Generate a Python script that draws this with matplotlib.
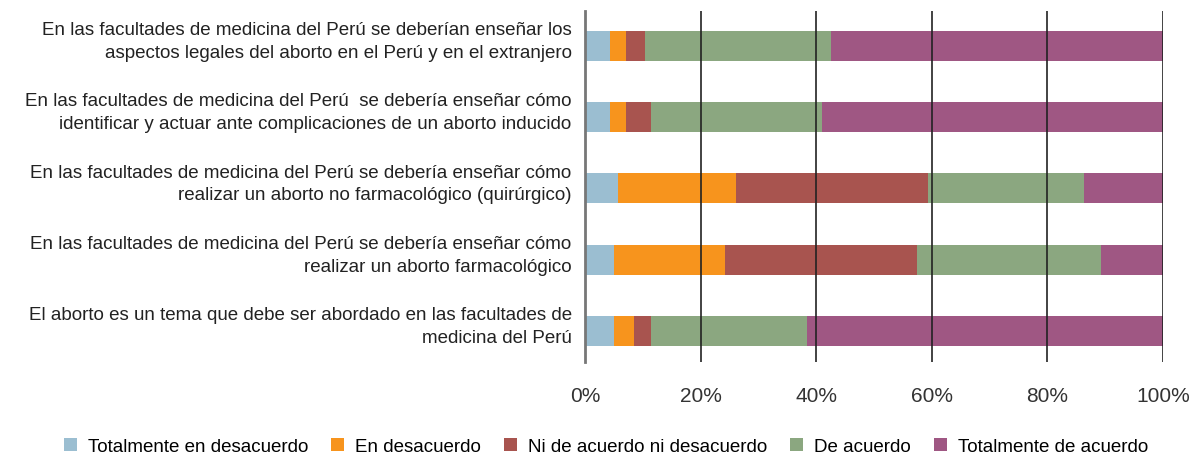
import matplotlib.pyplot as plt
import matplotlib.transforms as mtransforms
import numpy as np

plt.rcParams['font.family'] = ['Liberation Sans', 'DejaVu Sans']

# Statements (top to bottom) and responses in percent
statements = [
    'En las facultades de medicina del Perú se deberían enseñar los\naspectos legales del aborto en el Perú y en el extranjero',
    'En las facultades de medicina del Perú  se debería enseñar cómo\nidentificar y actuar ante complicaciones de un aborto inducido',
    'En las facultades de medicina del Perú se debería enseñar cómo\nrealizar un aborto no farmacológico (quirúrgico)',
    'En las facultades de medicina del Perú se debería enseñar cómo\nrealizar un aborto farmacológico',
    'El aborto es un tema que debe ser abordado en las facultades de\nmedicina del Perú',
]
categories = ['Totalmente en desacuerdo', 'En desacuerdo', 'Ni de acuerdo ni desacuerdo',
              'De acuerdo', 'Totalmente de acuerdo']
tot_desacuerdo = [4.3, 4.3, 5.7, 5.0, 5.0]
desacuerdo = [2.8, 2.8, 20.4, 19.2, 3.5]
neutral = [3.3, 4.3, 33.2, 33.2, 2.9]
acuerdo = [32.2, 29.6, 27.0, 31.9, 27.0]
tot_acuerdo = [57.4, 59.0, 13.7, 10.7, 61.6]
xticks = [0, 20, 40, 60, 80, 100]

colors = ['#9BBED1', '#F7941D', '#A8544F', '#8BA780', '#9F5783']

fig = plt.figure(figsize=(11.93, 4.56), dpi=100)
ax = fig.add_axes([585 / 1193, 1 - 363 / 456, 578 / 1193, 351 / 456])

y = np.arange(len(statements))[::-1]
left = np.zeros(len(statements))
for vals, lab, c in zip([tot_desacuerdo, desacuerdo, neutral, acuerdo, tot_acuerdo], categories, colors):
    ax.barh(y, vals, left=left, height=0.42, color=c, label=lab, zorder=2)
    left += np.array(vals)

ax.set_xlim(0, 100)
ax.set_ylim(-0.435, 4.49)
ax.set_xticks(xticks)
ax.set_xticklabels([f'{t}%' for t in xticks], fontsize=15, color='#333333')
ax.set_yticks([])
ax.tick_params(axis='both', length=0)
ax.tick_params(axis='x', pad=17)

# statement labels, set a little above the bar centre
trans = mtransforms.blended_transform_factory(ax.transAxes, ax.transData)
trans = trans + mtransforms.ScaledTranslation(0, 5 / 100, fig.dpi_scale_trans)
for yi, txt in zip(y, statements):
    ax.text(-0.023, yi, txt, transform=trans, ha='right', va='center',
            multialignment='right', linespacing=1.45, fontsize=13.5, color='#222222')

ax.grid(axis='x', color='#222222', linewidth=1.2, zorder=3)
ax.set_axisbelow(False)
for s in ['top', 'right', 'bottom']:
    ax.spines[s].set_visible(False)
ax.spines['left'].set_color('#777777')
ax.spines['left'].set_linewidth(2)
ax.spines['left'].set_zorder(4)

fig.legend(loc='lower center', bbox_to_anchor=(0.508, -0.037), ncol=5, frameon=False,
           fontsize=13.5, handlelength=0.7, handleheight=0.7, handletextpad=0.6,
           columnspacing=1.2)

fig.savefig('out.png', dpi=100)
